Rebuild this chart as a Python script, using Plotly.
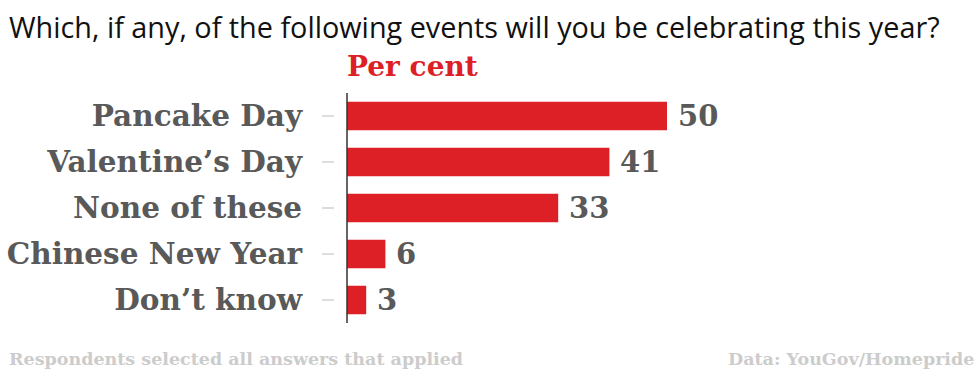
import plotly.graph_objects as go

categories = ["Pancake Day", "Valentine\u2019s Day", "None of these", "Chinese New Year", "Don\u2019t know"]
values = [50, 41, 33, 6, 3]

title_text = "Which, if any, of the following events will you be celebrating this year?"
subtitle_text = "Per cent"
note_text = "Respondents selected all answers that applied"
source_text = "Data: YouGov/Homepride"

RED = "#dd1f26"
GREY = "#595959"
SLAB = "DejaVu Serif"

W, H = 980, 375
ml, mr, mt, mb = 335, 5, 93, 52
px_per_unit = 6.4
x0 = -(347 - ml) / px_per_unit
x1 = (W - mr - 347) / px_per_unit
pw, ph = W - ml - mr, H - mt - mb

fig = go.Figure()
fig.add_trace(go.Bar(
    x=values, y=categories, orientation="h",
    marker=dict(color=RED, line=dict(width=0)),
    width=0.62, hoverinfo="skip",
))

for c, v in zip(categories, values):
    fig.add_annotation(x=v, y=c, text=str(v), showarrow=False, xanchor="left",
                       xshift=9,
                       font=dict(family=SLAB, size=29, color=GREY, weight="bold"))

# vertical baseline at zero
fig.add_shape(type="line", x0=0, x1=0, y0=0, y1=1, xref="x", yref="y domain",
              line=dict(color="#333333", width=1.5))

fig.add_annotation(text=title_text, x=(7 - ml) / pw, y=1 + (mt - 5) / ph,
                   xref="paper", yref="paper", xanchor="left", yanchor="top",
                   showarrow=False,
                   font=dict(family="Open Sans", size=28.8, color="#111111"))
fig.add_annotation(text=subtitle_text, x=0, y=1, xref="x", yref="paper",
                   xanchor="left", yanchor="bottom", yshift=8, xshift=-2,
                   showarrow=False,
                   font=dict(family=SLAB, size=28, color=RED, weight="bold"))
fig.add_annotation(text=note_text, x=(7 - ml) / pw, y=-(mb - 4) / ph,
                   xref="paper", yref="paper", xanchor="left", yanchor="bottom",
                   showarrow=False,
                   font=dict(family=SLAB, size=17.5, color="#cccccc", weight="bold"))
fig.add_annotation(text=source_text, x=1 + (mr - 4) / pw, y=-(mb - 4) / ph,
                   xref="paper", yref="paper", xanchor="right", yanchor="bottom",
                   showarrow=False,
                   font=dict(family=SLAB, size=17.5, color="#cccccc", weight="bold"))

fig.update_layout(
    width=W, height=H,
    margin=dict(l=ml, r=mr, t=mt, b=mb, pad=0),
    plot_bgcolor="white", paper_bgcolor="white",
    showlegend=False,
    xaxis=dict(range=[x0, x1], visible=False, fixedrange=True),
    yaxis=dict(range=[4.5, -0.5], showgrid=False, zeroline=False, showline=False,
               ticks="outside", ticklen=12, tickwidth=1.5, tickcolor="#dddddd",
               ticklabelstandoff=14,
               tickfont=dict(family=SLAB, size=29.5, color=GREY, weight="bold"),
               fixedrange=True),
)

fig.write_html("out.html")
